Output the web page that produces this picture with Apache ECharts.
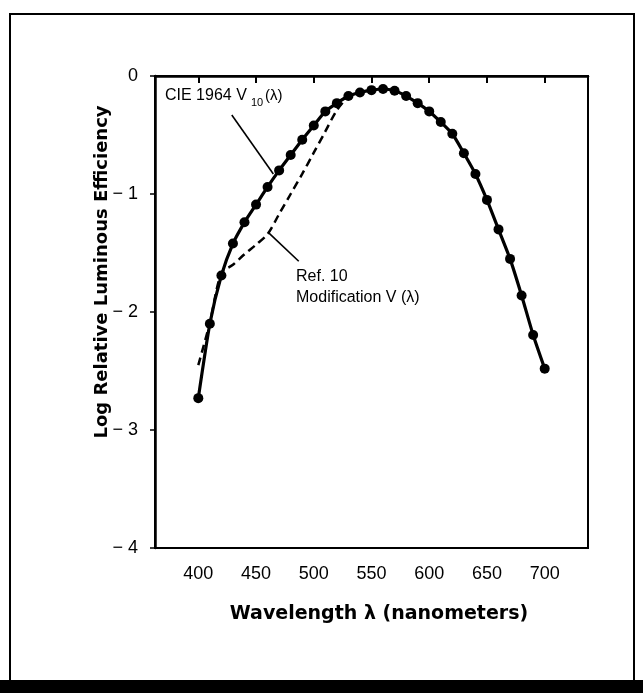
<!DOCTYPE html>
<html>
<head>
<meta charset="utf-8">
<title>Log Relative Luminous Efficiency</title>
<script src="https://cdn.jsdelivr.net/npm/echarts@6/dist/echarts.min.js"></script>
<style>
    html, body { margin: 0; padding: 0; background: #fff; }
    #chart { width: 643px; height: 693px; }
</style>
</head>
<body>
<div id="chart"></div>
<script>
// ── Data ───────────────────────────────────────────
var wavelengths = [400, 410, 420, 430, 440, 450, 460, 470, 480, 490, 500,
                   510, 520, 530, 540, 550, 560, 570, 580, 590, 600,
                   610, 620, 630, 640, 650, 660, 670, 680, 690, 700];

// CIE 1964 V10(λ), log relative luminous efficiency
var cieLog = [-2.73, -2.10, -1.69, -1.42, -1.24, -1.09, -0.94, -0.80, -0.67, -0.54, -0.42,
              -0.30, -0.23, -0.17, -0.14, -0.12, -0.11, -0.125, -0.17, -0.23, -0.30,
              -0.39, -0.49, -0.655, -0.83, -1.05, -1.30, -1.55, -1.86, -2.195, -2.48];

// Ref. 10 modification of V(λ), dashed; merges with V10 above ~530 nm
var refWavelengths = [400, 410, 420, 430, 440, 450, 460, 470, 480, 490, 500, 510, 520, 530];
var refLog = [-2.45, -2.09, -1.67, -1.60, -1.51, -1.43, -1.34, -1.17, -1.00, -0.83, -0.65, -0.47, -0.29, -0.17];

var xTicks = [400, 450, 500, 550, 600, 650, 700];
var yTicks = [0, -1, -2, -3, -4];

// Annotation arrows, given in data coordinates: [from, to]
var cieArrow = [[429, -0.33], [465, -0.83]];
var refArrow = [[487, -1.57], [461, -1.33]];

(function () {
    'use strict';

    var FONT = '"Liberation Sans", Arial, Helvetica, sans-serif';
    var HEAVY = '"DejaVu Sans", "Liberation Sans", sans-serif';

    function zip(xs, ys) {
        return xs.map(function (x, i) { return [x, ys[i]]; });
    }

    function tickLabel(v) {
        return v === 0 ? '0' : '\u2212 ' + Math.abs(v);
    }

    function arrow(pair) {
        return [
            { coord: pair[0], symbol: 'none' },
            { coord: pair[1], symbol: 'arrow' }
        ];
    }

    var chart = echarts.init(document.getElementById('chart'), null, { renderer: 'canvas' });

    var option = {
        animation: false,
        backgroundColor: '#fff',
        grid: {
            left: 155, right: 55, top: 76, bottom: 145,
            show: true,
            borderColor: '#000',
            borderWidth: 2,
            outerBoundsMode: 'none'
        },
        xAxis: {
            type: 'value',
            min: 362.5,
            max: 737.5,
            splitLine: { show: false },
            axisLine: { lineStyle: { color: '#000', width: 2.5 } },
            axisTick: {
                show: true, inside: false, length: 7,
                customValues: xTicks,
                lineStyle: { color: '#000', width: 2 }
            },
            axisLabel: {
                customValues: xTicks,
                margin: 17,
                color: '#000',
                fontFamily: FONT,
                fontSize: 18
            }
        },
        yAxis: {
            type: 'value',
            min: yTicks[yTicks.length - 1],
            max: yTicks[0],
            interval: 1,
            splitLine: { show: false },
            axisLine: { show: true, lineStyle: { color: '#000', width: 2.5 } },
            axisTick: {
                show: true, inside: false, length: 5,
                lineStyle: { color: '#000', width: 1.5 }
            },
            axisLabel: {
                margin: 17,
                color: '#000',
                fontFamily: FONT,
                fontSize: 18,
                formatter: tickLabel
            }
        },
        series: [
            {
                name: 'Ref. 10 Modification V(λ)',
                type: 'line',
                data: zip(refWavelengths, refLog),
                smooth: 0.3,
                showSymbol: false,
                symbol: 'none',
                lineStyle: { color: '#000', width: 2.5, type: [8, 5] },
                z: 2,
                silent: true
            },
            {
                name: 'CIE 1964 V10(λ)',
                type: 'line',
                data: zip(wavelengths, cieLog),
                smooth: 0.2,
                symbol: 'circle',
                symbolSize: 10,
                itemStyle: { color: '#000' },
                lineStyle: { color: '#000', width: 3.2 },
                z: 3,
                silent: true,
                markLine: {
                    silent: true,
                    animation: false,
                    symbolSize: [0, 10],
                    label: { show: false },
                    lineStyle: { color: '#000', width: 1.6, type: 'solid' },
                    emphasis: { disabled: true },
                    data: [arrow(cieArrow), arrow(refArrow)]
                }
            }
        ],
        graphic: [
            // outer frame + black bar of the scan
            {
                type: 'rect', silent: true, z: 0,
                shape: { x: 10, y: 14, width: 624, height: 668 },
                style: { fill: 'none', stroke: '#000', lineWidth: 2 }
            },
            {
                type: 'rect', silent: true,
                shape: { x: 0, y: 680, width: 643, height: 13 },
                style: { fill: '#000' }
            },
            // axis titles
            {
                type: 'text', silent: true,
                x: 379, y: 614,
                style: {
                    text: 'Wavelength \u03bb (nanometers)',
                    font: 'bold 19px ' + HEAVY,
                    fill: '#000', align: 'center', verticalAlign: 'middle'
                }
            },
            {
                type: 'text', silent: true,
                x: 102, y: 272, rotation: Math.PI / 2,
                style: {
                    text: 'Log Relative Luminous Efficiency',
                    font: 'bold 18px ' + HEAVY,
                    fill: '#000', align: 'center', verticalAlign: 'middle'
                }
            },
            // curve annotations
            {
                type: 'text', silent: true,
                x: 165, y: 96,
                style: { text: 'CIE 1964 V', font: '16px ' + FONT, fill: '#000', verticalAlign: 'middle' }
            },
            {
                type: 'text', silent: true,
                x: 251, y: 103,
                style: { text: '10', font: '11px ' + FONT, fill: '#000', verticalAlign: 'middle' }
            },
            {
                type: 'text', silent: true,
                x: 265, y: 96,
                style: { text: '(\u03bb)', font: '15px ' + FONT, fill: '#000', verticalAlign: 'middle' }
            },
            {
                type: 'text', silent: true,
                x: 296, y: 277,
                style: { text: 'Ref. 10', font: '16px ' + FONT, fill: '#000', verticalAlign: 'middle' }
            },
            {
                type: 'text', silent: true,
                x: 296, y: 298,
                style: { text: 'Modification V (\u03bb)', font: '16px ' + FONT, fill: '#000', verticalAlign: 'middle' }
            }
        ]
    };

    chart.setOption(option);
})();
</script>
</body>
</html>
